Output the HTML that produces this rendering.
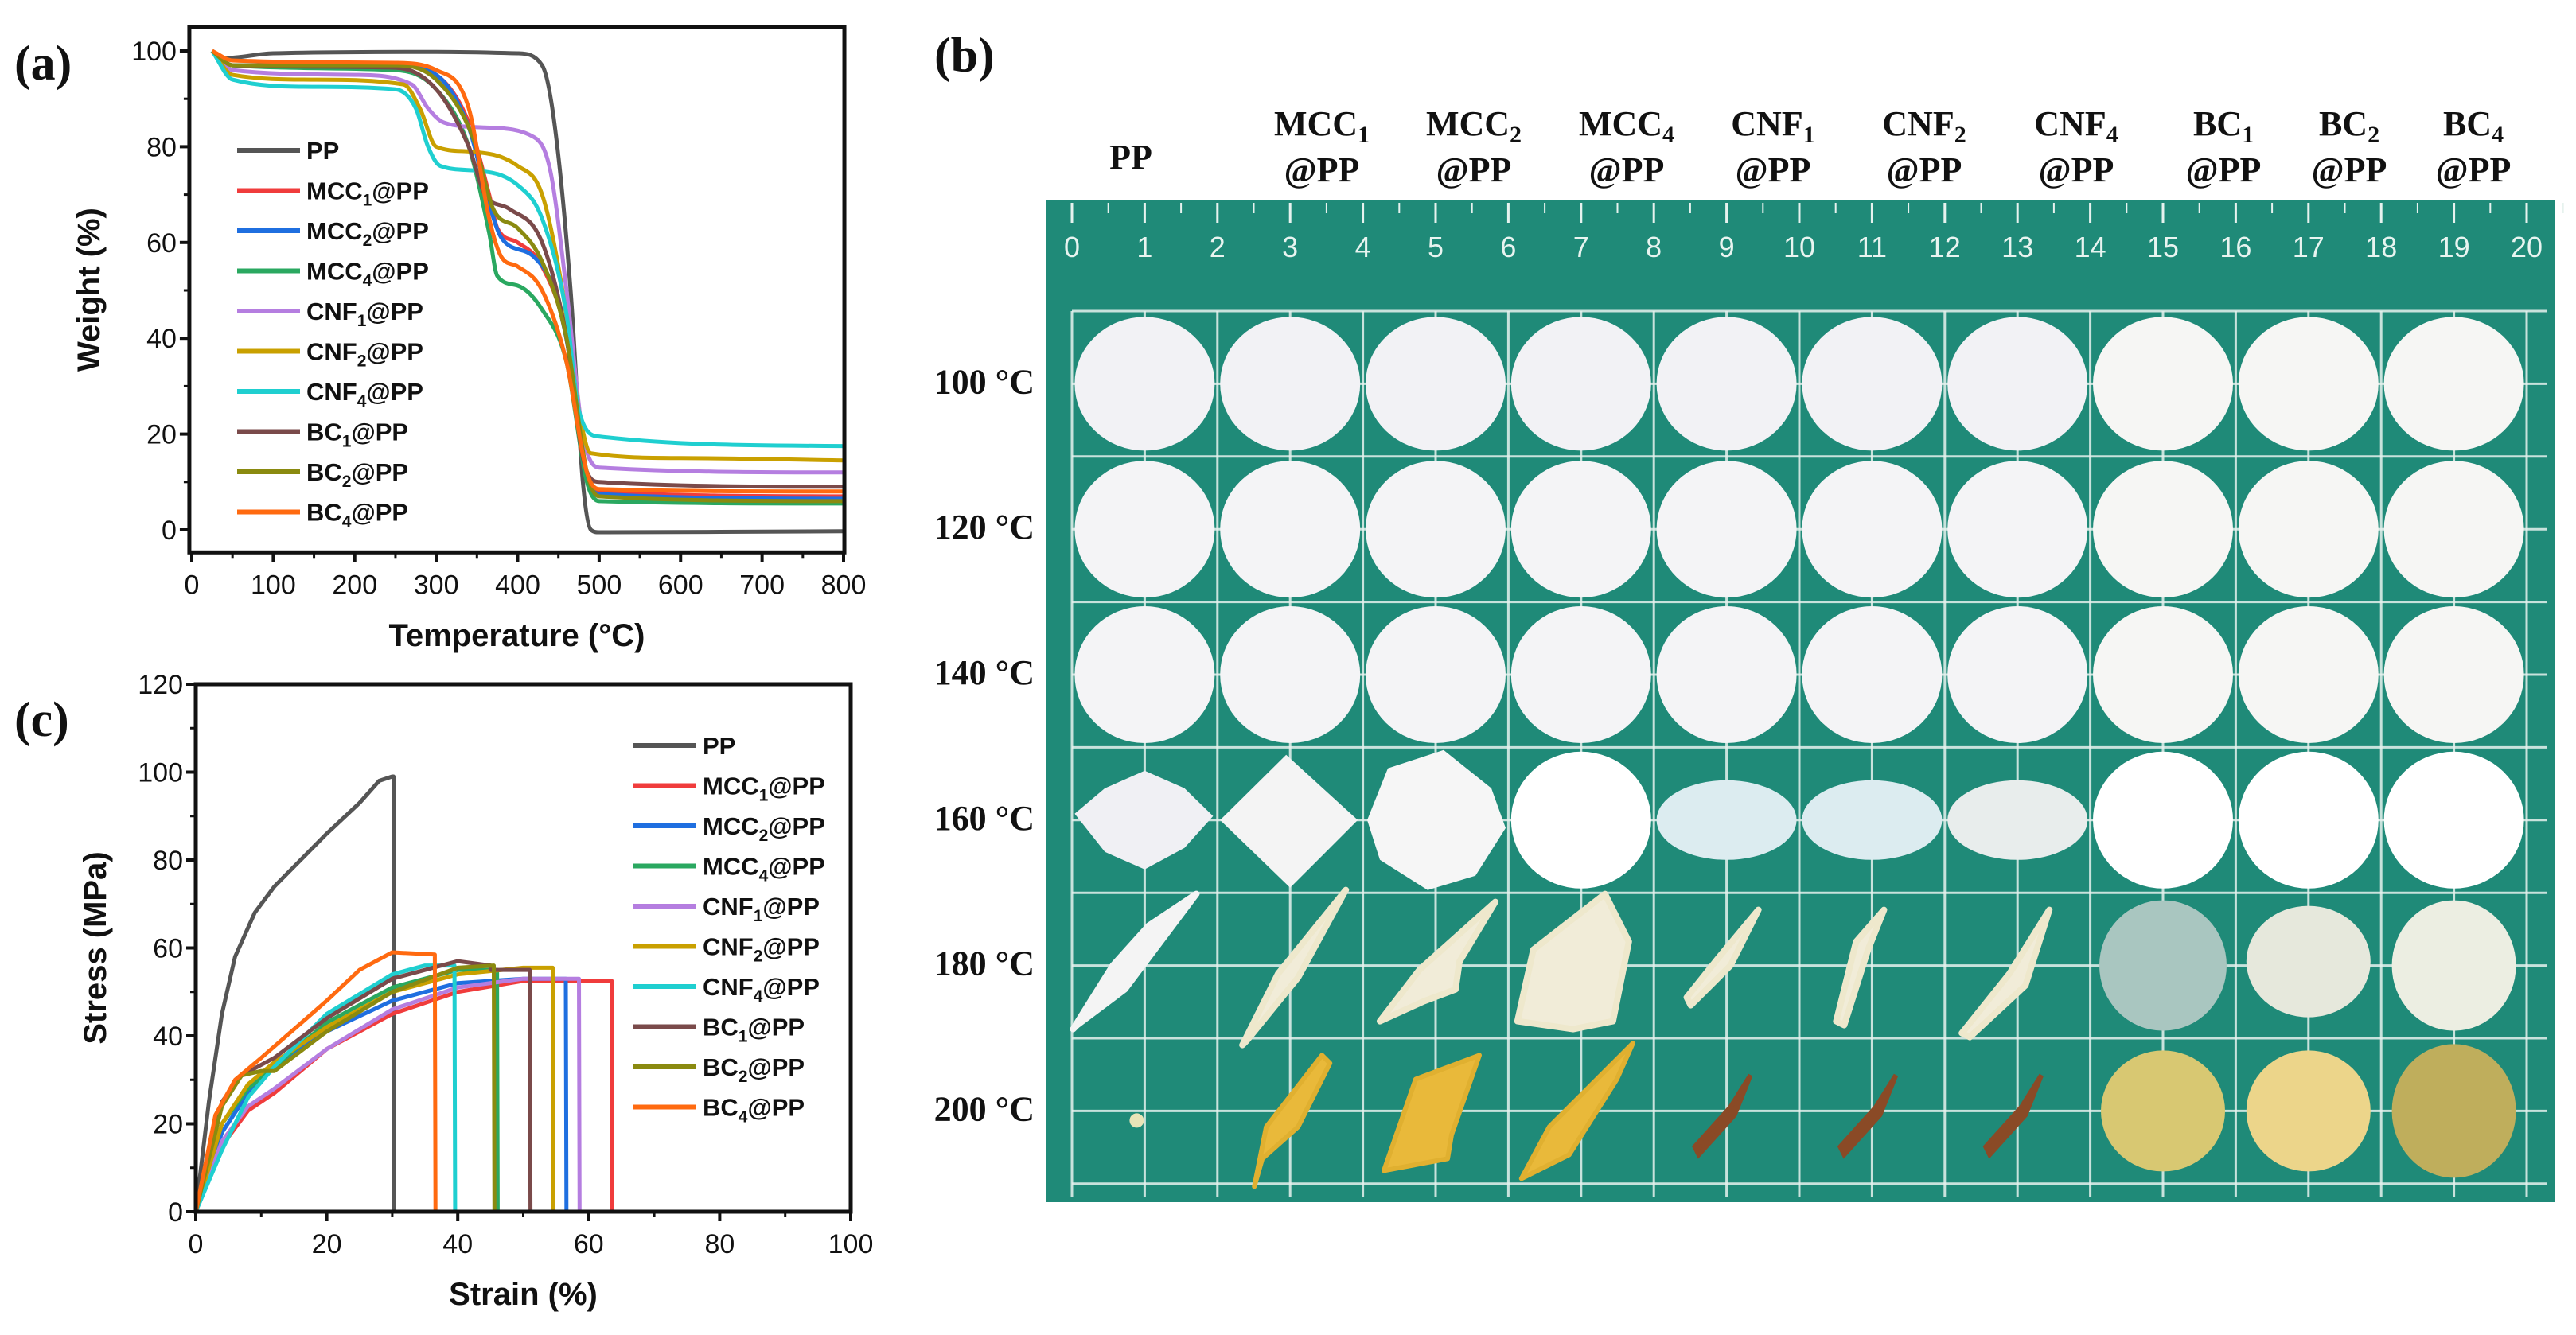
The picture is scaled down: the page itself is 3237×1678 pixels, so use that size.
<!DOCTYPE html>
<html><head><meta charset="utf-8"><style>
html,body{margin:0;padding:0;background:#fff;}
svg{display:block;}
.tk{font-family:"Liberation Sans",sans-serif;font-size:34px;fill:#111;}
.lg{font-family:"Liberation Sans",sans-serif;font-size:31px;font-weight:bold;fill:#111;}
.ttl{font-family:"Liberation Sans",sans-serif;font-size:40px;font-weight:bold;fill:#111;}
.pl{font-family:"Liberation Serif",serif;font-size:62px;font-weight:bold;fill:#111;}
.hd{font-family:"Liberation Serif",serif;font-size:44px;font-weight:bold;fill:#111;}
.rn{font-family:"Liberation Sans",sans-serif;font-size:36px;fill:#e8f4f0;}
</style></head><body>
<svg id="fig" width="3237" height="1678" viewBox="0 0 3237 1678" xmlns="http://www.w3.org/2000/svg">
<rect x="0" y="0" width="3237" height="1678" fill="#fff"/>
<g id="pa"></g>
<g id="pc"></g>
<g id="pb"></g>
</svg>
<script>
const NS="http://www.w3.org/2000/svg";
const names=["PP","MCC1@PP","MCC2@PP","MCC4@PP","CNF1@PP","CNF2@PP","CNF4@PP","BC1@PP","BC2@PP","BC4@PP"];
const colors=["#555555","#f03c3c","#1f6fe0","#2aa860","#b57ee0","#c9a000","#1fcfd0","#7a4a4a","#8a8a10","#ff6a10"];
// TGA data: temperature (°C) and weight (%)
const tgaT=[
[25,40,100,300,400,430,445,465,480,490,500,800],
[25,50,250,300,340,365,375,400,430,460,480,500,800],
[25,50,250,300,340,365,380,420,445,465,482,500,800],
[25,50,250,300,340,365,375,400,430,460,485,500,800],
[25,50,200,270,290,310,360,420,440,460,480,500,800],
[25,50,150,260,280,300,340,400,430,455,475,490,600,800],
[25,50,150,250,275,290,305,350,400,430,460,475,500,800],
[25,50,250,300,340,360,390,430,460,480,500,800],
[25,50,250,300,345,370,400,430,460,485,500,800],
[25,50,250,300,340,365,380,400,430,460,485,500,800]];
const tgaW=[
[100,98.5,99.5,99.8,99.5,97,85,50,10,0,-0.5,-0.3],
[100,97,97,95,85,70,63,60,55,40,15,8,7],
[100,97,97,95,84,68,61,57,50,35,13,7.5,6.5],
[100,97,96,92,80,62,53,51,46,35,10,6,5.5],
[100,96,95,93,88,85,84,82,75,50,20,13,12],
[100,95,94,93,88,80,79,76,70,50,25,16,15,14.5],
[100,94,92.5,92,88,80,76,75,72,65,45,25,19.5,17.5],
[100,97,96.5,92,80,70,67,60,40,15,10,9],
[100,97,97,94,82,67,63,56,40,12,7,6],
[100,98,97.5,96,88,65,57,55,50,35,12,8.5,8]];
const tgaXTicks=[0,100,200,300,400,500,600,700,800];
const tgaYTicks=[0,20,40,60,80,100];
// tensile data: strain (%) and stress (MPa)
const ssX=[
[0,2,4,6,9,12,16,20,25,28,30,30.2,30.3],
[0,4,8,12,20,30,40,50,63.5,63.6],
[0,4,8,12,20,30,40,50,56.5,56.6],
[0,4,8,12,20,30,40,46,46.1],
[0,4,8,12,20,30,40,50,58.5,58.6],
[0,4,8,12,20,30,40,50,54.5,54.6],
[0,4,8,12,20,30,35,39.5,39.6],
[0,4,7,12,20,30,40,45,45,51,51.1],
[0,4,7,10,12,20,30,40,45.5,45.6],
[0,3,6,10,20,25,30,36.5,36.6]];
const ssY=[
[0,25,45,58,68,74,80,86,93,98,99,99,0],
[0,15,23,27,37,45,50,52.5,52.5,0],
[0,18,27,33,41,48,52,53,53,0],
[0,20,28,33,43,51,55,55,0],
[0,16,24,28,37,46,51,53,53,0],
[0,20,29,34,42,50,54,55.5,55.5,0],
[0,14,26,33,45,54,56,56,0],
[0,25,31,35,44,53,57,56,55,55,0],
[0,24,31,32,32,41,50,55.5,56,0],
[0,22,30,35,48,55,59,58.5,0]];
const ssXTicks=[0,20,40,60,80,100];
const ssYTicks=[0,20,40,60,80,100,120];

function mk(tag,attrs,parent,text){const e=document.createElementNS(NS,tag);for(const k in attrs)e.setAttribute(k,attrs[k]);if(text!==undefined)e.textContent=text;parent.appendChild(e);return e;}
function label(parent,x,y,name,cls,anchor){
  const t=mk("text",{x:x,y:y,class:cls,"text-anchor":anchor||"start"},parent);
  const m=name.match(/^([A-Z]+)(\d?)(.*)$/);
  if(m && m[2]){mk("tspan",{},t,m[1]);mk("tspan",{"font-size":"21","dy":"8"},t,m[2]);mk("tspan",{"dy":"-8"},t,m[3]);}
  else t.textContent=name;
  return t;
}
// monotone cubic path through pixel points (x increasing)
function monoPath(P){
  const n=P.length;if(n<3)return P.map((p,i)=>(i?"L":"M")+p[0].toFixed(1)+","+p[1].toFixed(1)).join("");
  const d=[],m=[];
  for(let i=0;i<n-1;i++)d.push((P[i+1][1]-P[i][1])/(P[i+1][0]-P[i][0]));
  m[0]=d[0];m[n-1]=d[n-2];
  for(let i=1;i<n-1;i++){m[i]=(d[i-1]*d[i]<=0)?0:(d[i-1]+d[i])/2;}
  for(let i=0;i<n-1;i++){if(d[i]===0){m[i]=0;m[i+1]=0;continue;}const a=m[i]/d[i],b=m[i+1]/d[i],s=a*a+b*b;if(s>9){const t=3/Math.sqrt(s);m[i]=t*a*d[i];m[i+1]=t*b*d[i];}}
  let s="M"+P[0][0].toFixed(1)+","+P[0][1].toFixed(1);
  for(let i=0;i<n-1;i++){const h=(P[i+1][0]-P[i][0])/3;
    s+="C"+(P[i][0]+h).toFixed(1)+","+(P[i][1]+m[i]*h).toFixed(1)+" "+(P[i+1][0]-h).toFixed(1)+","+(P[i+1][1]-m[i+1]*h).toFixed(1)+" "+P[i+1][0].toFixed(1)+","+P[i+1][1].toFixed(1);}
  return s;
}
function drawChart(g,o){
  const X=v=>o.x0+(v-o.xmin)*(o.x1-o.x0)/(o.xmax-o.xmin);
  const Y=v=>o.y0-(v-o.ymin)*(o.y0-o.y1)/(o.ymax-o.ymin);
  const fx=X(o.fxmin),fx2=X(o.fxmax),fy=Y(o.fymax),fy2=Y(o.fymin);
  const clip=mk("clipPath",{id:o.id+"clip"},g);mk("rect",{x:fx,y:fy,width:fx2-fx,height:fy2-fy},clip);
  for(let s=0;s<o.xs.length;s++){
    let d;
    if(o.smooth) d=monoPath(o.xs[s].map((v,i)=>[X(v),Y(o.ys[s][i])]));
    else d=o.xs[s].map((v,i)=>(i?"L":"M")+X(v).toFixed(1)+","+Y(o.ys[s][i]).toFixed(1)).join("");
    const p=mk("path",{d:d,fill:"none",stroke:colors[s],"stroke-width":5,"stroke-linejoin":"round","clip-path":"url(#"+o.id+"clip)"},g);
    
    
  }
  const fr=mk("rect",{x:fx,y:fy,width:fx2-fx,height:fy2-fy,fill:"none",stroke:"#111","stroke-width":5},g);
  
  
  o.xt.forEach((v,i)=>{
    mk("line",{x1:X(v),x2:X(v),y1:fy2,y2:fy2+12,stroke:"#111","stroke-width":4},g);
    if(i<o.xt.length-1){const m=(v+o.xt[i+1])/2;mk("line",{x1:X(m),x2:X(m),y1:fy2,y2:fy2+7,stroke:"#111","stroke-width":3},g);}
    const t=mk("text",{x:X(v),y:fy2+52,class:"tk","text-anchor":"middle"},g,String(v));
    
    
  });
  o.yt.forEach((v,i)=>{
    mk("line",{x1:fx-12,x2:fx,y1:Y(v),y2:Y(v),stroke:"#111","stroke-width":4},g);
    if(i<o.yt.length-1){const m=(v+o.yt[i+1])/2;mk("line",{x1:fx-7,x2:fx,y1:Y(m),y2:Y(m),stroke:"#111","stroke-width":3},g);}
    const t=mk("text",{x:fx-16,y:Y(v)+12,class:"tk","text-anchor":"end"},g,String(v));
    
    
  });
  const xt=mk("text",{x:(fx+fx2)/2,y:o.xly,class:"ttl","text-anchor":"middle"},g,o.xl);
  
  
  const yt=mk("text",{x:0,y:0,class:"ttl","text-anchor":"middle",transform:"translate("+o.ylx+","+((fy+fy2)/2)+") rotate(-90)"},g,o.yl);
  
  
  names.forEach((n,i)=>{
    const ly=o.ly0+i*o.lds;
    const lg=mk("g",{},g);
    
    
    mk("line",{x1:o.lx0,x2:o.lx1,y1:ly,y2:ly,stroke:colors[i],"stroke-width":6},lg);
    label(lg,o.lx1+8,ly+11,n,"lg");
  });
  const pl=mk("text",{x:o.plx,y:o.ply,class:"pl"},g,o.pl);
  
  
}
drawChart(document.getElementById("pa"),{id:"a",smooth:true,xs:tgaT,ys:tgaW,x0:241,x1:1060,xmin:0,xmax:800,y0:666,y1:64,ymin:0,ymax:100,
  fxmin:-3,fxmax:801,fymin:-4.7,fymax:105,xt:tgaXTicks,yt:tgaYTicks,xl:"Temperature (°C)",xly:812,yl:"Weight (%)",ylx:125,
  lx0:298,lx1:377,ly0:189,lds:50.5,pl:"(a)",plx:18,ply:100});
drawChart(document.getElementById("pc"),{id:"c",smooth:false,xs:ssX,ys:ssY,x0:246,x1:1069,xmin:0,xmax:100,y0:1523,y1:860,ymin:0,ymax:120,
  fxmin:0,fxmax:100,fymin:0,fymax:120,xt:ssXTicks,yt:ssYTicks,xl:"Strain (%)",xly:1640,yl:"Stress (MPa)",ylx:133,
  lx0:796,lx1:875,ly0:937,lds:50.5,pl:"(c)",plx:18,ply:925});

(function(){
  const g=document.getElementById("pb");
  const pl=mk("text",{x:1174,y:90,class:"pl"},g,"(b)");
  
  
  const board=mk("rect",{x:1315,y:252,width:1895,height:1259,fill:"#1f8a78"},g);
  
  
  const cm=91.4, ox=1347, oy=391;
  for(let k=0;k<=20;k++){
    mk("line",{x1:ox+k*cm,x2:ox+k*cm,y1:oy,y2:1505,stroke:"#e6f2ee","stroke-width":3,opacity:0.85},g);
    mk("line",{x1:ox+k*cm,x2:ox+k*cm,y1:255,y2:280,stroke:"#e6f2ee","stroke-width":3},g);
    mk("line",{x1:ox+(k+0.5)*cm,x2:ox+(k+0.5)*cm,y1:255,y2:268,stroke:"#e6f2ee","stroke-width":2},g);
    const t=mk("text",{x:ox+k*cm,y:323,class:"rn","text-anchor":"middle"},g,String(k));
    
    
  }
  for(let r=0;r<=12;r++) mk("line",{x1:ox,x2:3200,y1:oy+r*cm,y2:oy+r*cm,stroke:"#e6f2ee","stroke-width":3,opacity:0.85},g);
  const cols=["PP","MCC1","MCC2","MCC4","CNF1","CNF2","CNF4","BC1","BC2","BC4"];
  const cx=[1421,1661,1852,2044,2228,2418,2609,2794,2952,3108];
  cols.forEach((c,i)=>{
    if(c==="PP"){const t=mk("text",{x:cx[i],y:212,class:"hd","text-anchor":"middle"},g,"PP");return;}
    const m=c.match(/^([A-Z]+)(\d)$/);
    const t=mk("text",{x:cx[i],y:170,class:"hd","text-anchor":"middle"},g);
    
    
    mk("tspan",{},t,m[1]);mk("tspan",{"font-size":"30","dy":"9"},t,m[2]);
    const t2=mk("text",{x:cx[i],y:228,class:"hd","text-anchor":"middle"},g,"@PP");
    
    
  });
  const rows=["100 °C","120 °C","140 °C","160 °C","180 °C","200 °C"];
  rows.forEach((r,j)=>{
    const t=mk("text",{x:1300,y:oy+(2*j+1)*cm+12,class:"hd","text-anchor":"end"},g,r);
    
    
  });
  function sx(i){return ox+(2*i+1)*cm;}
  function sy(j){return oy+(2*j+1)*cm;}
  for(let j=0;j<6;j++)for(let i=0;i<10;i++){
    const X=sx(i),Y=sy(j);let e;
    if(j<3||(j===3&&(i===3||i>=7))){
      const f=(i>=7)?"#f6f6f4":(j===0?"#f2f2f5":"#f4f4f6");
      e=mk("ellipse",{cx:X,cy:Y,rx:88,ry:j===0?84:86,fill:j===3?"#ffffff":f},g);
    } else if(j===3){
      if(i===0) e=mk("polygon",{points:[X-88,Y-8,X-50,Y-40,X,Y-62,X+50,Y-40,X+86,Y-5,X+50,Y+35,X,Y+62,X-50,Y+40].join(","),fill:"#f0f0f4"},g);
      else if(i===1) e=mk("polygon",{points:[X-88,Y,X-5,Y-82,X+85,Y,X,Y+85].join(","),fill:"#f4f4f4"},g);
      else if(i===2) e=mk("polygon",{points:[X-86,Y,X-60,Y-65,X+10,Y-88,X+70,Y-40,X+88,Y+10,X+50,Y+70,X-10,Y+88,X-70,Y+50].join(","),fill:"#f6f6f6"},g);
      else e=mk("ellipse",{cx:X,cy:Y,rx:88,ry:50,fill:i===6?"#e8edec":"#dcecf0"},g);
    } else if(j===4){
      if(i<7){
        const shapes=[
          [X-90,Y+80,X-40,Y,X+5,Y-50,X+65,Y-90,X+20,Y-30,X-25,Y+30,X-85,Y+75],
          [X-60,Y+100,X-15,Y+10,X+70,Y-95,X+10,Y+15,X-55,Y+95],
          [X-70,Y+70,X-20,Y+5,X+75,Y-80,X+30,Y-5,X+25,Y+30,X-15,Y+45],
          [X-80,Y+70,X-60,Y-20,X+30,Y-90,X+60,Y-30,X+40,Y+70,X-10,Y+80],
          [X-50,Y+40,X-10,Y-10,X+40,Y-70,X+5,Y,X-45,Y+50],
          [X-45,Y+70,X-20,Y-30,X+15,Y-70,X-5,Y-20,X-35,Y+75],
          [X-70,Y+85,X-10,Y+10,X+40,Y-70,X+10,Y+25,X-60,Y+90]];
        e=mk("polygon",{points:shapes[i].join(","),fill:i===0?"#f4f4f4":"#f1ecd8",stroke:i===0?"#f4f4f4":"#eee8cc","stroke-width":8,"stroke-linejoin":"round"},g);
      } else e=mk("ellipse",{cx:X,cy:Y+(i===8?-5:0),rx:i===7?80:78,ry:i===8?70:82,fill:i===7?"#a9c6c0":(i===8?"#e6e8dc":"#eceee2")},g);
    } else {
      if(i===0) e=mk("circle",{cx:X-10,cy:Y+12,r:9,fill:"#e9e4b8"},g);
      else if(i<4){
        const shapes=[
          [X-45,Y+95,X-30,Y+20,X+40,Y-70,X+50,Y-60,X+10,Y+20,X-35,Y+60],
          [X-65,Y+75,X-25,Y-40,X+55,Y-70,X+20,Y+30,X+15,Y+60],
          [X-75,Y+85,X-40,Y+20,X+65,Y-85,X+45,Y-40,X-15,Y+55]];
        e=mk("polygon",{points:shapes[i-1].join(","),fill:"#e9b93a",stroke:"#e0b030","stroke-width":6,"stroke-linejoin":"round"},g);
      } else if(i<7){
        e=mk("polygon",{points:[X-40,Y+45,X+5,Y-5,X+30,Y-45,X+10,Y+5,X-35,Y+55].join(","),fill:"#8a4a26",stroke:"#8a4a26","stroke-width":6},g);
      } else e=mk("ellipse",{cx:X,cy:Y,rx:78,ry:i===9?84:76,fill:i===7?"#d8c872":(i===8?"#ecd58a":"#bfae5c")},g);
    }
    
    
  }
})();
</script>
</body></html>
